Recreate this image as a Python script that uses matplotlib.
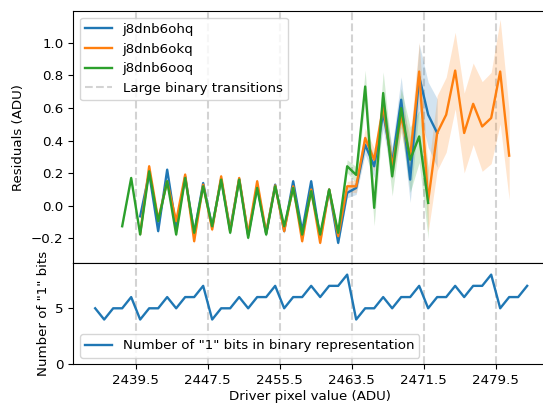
import numpy as np
import matplotlib
matplotlib.use("Agg")
import matplotlib.pyplot as plt

plt.rcParams["font.size"] = 9.6

# driver pixel values (ADU) and residuals per exposure
x_ohq = np.arange(2440, 2474)
res_ohq = [-0.064, 0.20, -0.155, 0.222, -0.135, 0.18, -0.17, 0.14, -0.13, 0.165,
           -0.145, 0.165, -0.18, 0.12, -0.17, 0.13, -0.155, 0.151, -0.155, 0.151,
           -0.196, 0.10, -0.227, 0.08, 0.11, 0.375, 0.243, 0.57, 0.263, 0.651,
           0.161, 0.794, 0.559, 0.447]
err_ohq = [0.015] * 23 + [0.03, 0.04, 0.06, 0.07, 0.10, 0.10, 0.14, 0.14, 0.20, 0.20, 0.21]

x_okq = np.arange(2440, 2482)
res_okq = [-0.17, 0.243, -0.084, 0.15, -0.094, 0.192, -0.217, 0.13, -0.145, 0.181,
           -0.155, 0.171, -0.175, 0.151, -0.165, 0.125, -0.155, 0.12, -0.217, 0.10,
           -0.227, 0.10, -0.186, 0.12, 0.12, 0.416, 0.283, 0.61, 0.243, 0.549,
           0.304, 0.824, 0.03, 0.447, 0.559, 0.830, 0.447, 0.626, 0.487, 0.539,
           0.824, 0.308]
err_okq = [0.015] * 23 + [0.03, 0.04, 0.06, 0.07, 0.08, 0.08, 0.10, 0.12, 0.18, 0.19,
                          0.23, 0.23, 0.235, 0.245, 0.25, 0.275, 0.28, 0.32, 0.27]

x_ooq = np.arange(2438, 2473)
res_ooq = [-0.125, 0.171, -0.176, 0.212, -0.094, 0.151, -0.176, 0.171, -0.165, 0.12,
           -0.125, 0.161, -0.165, 0.161, -0.196, 0.110, -0.176, 0.12, -0.125, 0.110,
           -0.176, 0.09, -0.176, 0.10, -0.165, 0.243, 0.19, 0.732, -0.012, 0.692,
           0.181, 0.60, 0.283, 0.426, 0.018]
err_ooq = [0.015] * 25 + [0.04, 0.05, 0.10, 0.11, 0.13, 0.12, 0.12, 0.20, 0.16, 0.22]

# number of "1" bits
x_bits = np.arange(2435, 2484)
n_bits = [5, 4, 5, 5, 6, 4, 5, 5, 6, 5, 6, 6, 7, 4, 5, 5, 6, 5, 6, 6, 7, 5, 6, 6, 7,
          6, 7, 7, 8, 4, 5, 5, 6, 5, 6, 6, 7, 5, 6, 6, 7, 6, 7, 7, 8, 5, 6, 6, 7]

transitions = [2439.5, 2447.5, 2455.5, 2463.5, 2471.5, 2479.5]

fig = plt.figure(figsize=(5.43, 4.04), dpi=100)
ax1 = fig.add_axes([0.135, 0.348, 0.87, 0.625])
ax2 = fig.add_axes([0.135, 0.098, 0.87, 0.25], sharex=ax1)

for name, xx, yy, ee in [("j8dnb6ohq", x_ohq, res_ohq, err_ohq),
                         ("j8dnb6okq", x_okq, res_okq, err_okq),
                         ("j8dnb6ooq", x_ooq, res_ooq, err_ooq)]:
    yy = np.array(yy)
    ee = np.array(ee)
    l, = ax1.plot(xx, yy, label=name, lw=1.7)
    ax1.fill_between(xx, yy - ee, yy + ee, color=l.get_color(), alpha=0.2, lw=0)

for i, t in enumerate(transitions):
    ax1.axvline(t, color="lightgray", ls="--", lw=1.5,
                label="Large binary transitions" if i == 0 else None, zorder=0)
    ax2.axvline(t, color="lightgray", ls="--", lw=1.5, zorder=0)

ax1.set_ylim(-0.353, 1.196)
ax1.set_ylabel("Residuals (ADU)")
ax1.legend(loc="upper left")
ax1.tick_params(labelbottom=False, bottom=False)

ax2.plot(x_bits, n_bits, lw=1.7, label='Number of "1" bits in binary representation')
ax2.set_ylim(0, 9)
ax2.set_yticks([0, 5])
ax2.set_ylabel('Number of "1" bits')
ax2.set_xlabel("Driver pixel value (ADU)", labelpad=2)
ax2.set_xticks(transitions)
ax2.set_xticklabels([str(t) for t in transitions])
ax2.set_xlim(2432.57, 2485.06)
ax2.legend(loc="lower left")

fig.savefig("out.png", dpi=100)
